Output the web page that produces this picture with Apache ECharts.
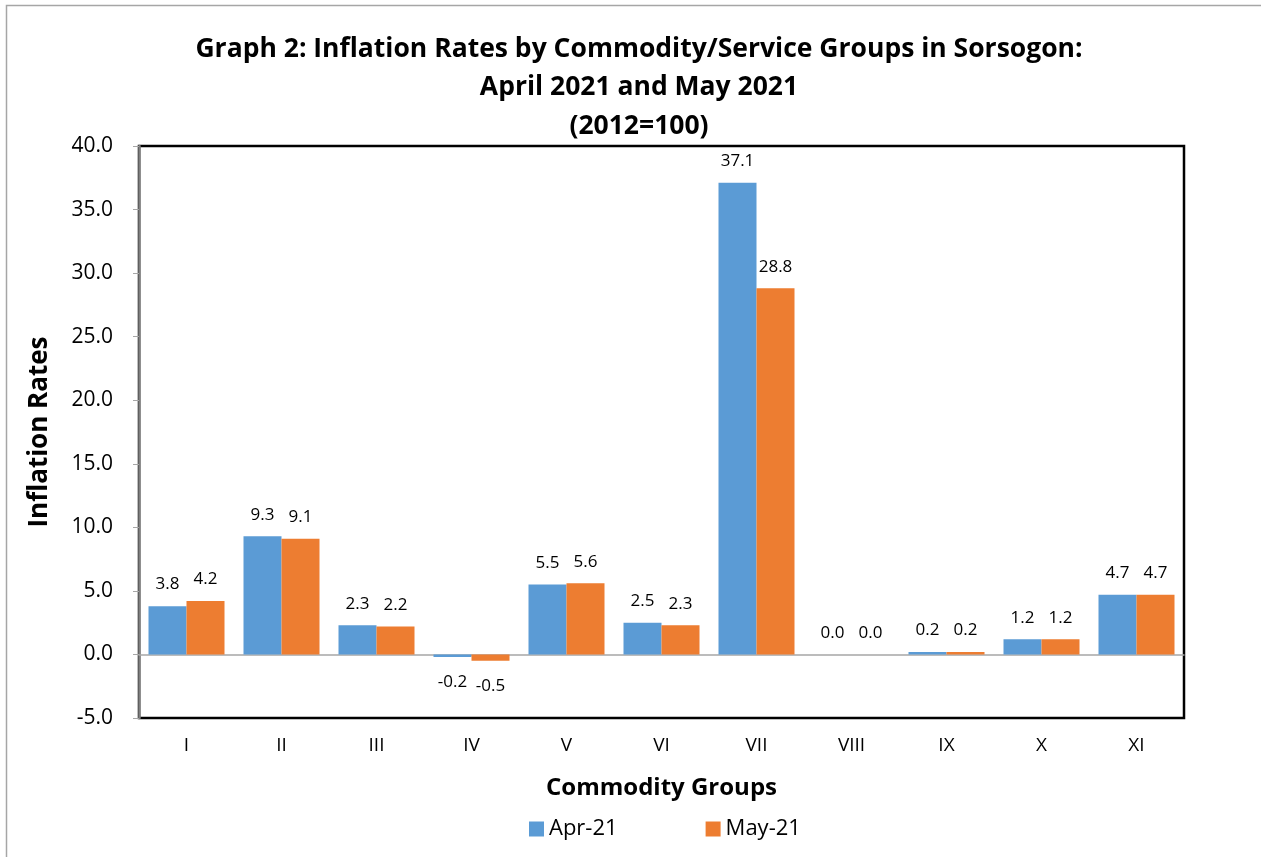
<!doctype html>
<html>
<head>
<meta charset="utf-8">
<script src="https://cdn.jsdelivr.net/npm/echarts@6/dist/echarts.min.js"></script>
<style>
  html, body { margin: 0; padding: 0; background: #fff; }
  #main { width: 1261px; height: 857px; }
</style>
</head>
<body>
<div id="main"></div>
<script>
var groups = ['I', 'II', 'III', 'IV', 'V', 'VI', 'VII', 'VIII', 'IX', 'X', 'XI'];
var apr21 = [3.8, 9.3, 2.3, -0.2, 5.5, 2.5, 37.1, 0.0, 0.2, 1.2, 4.7];
var may21 = [4.2, 9.1, 2.2, -0.5, 5.6, 2.3, 28.8, 0.0, 0.2, 1.2, 4.7];
var seriesNames = ['Apr-21', 'May-21'];

var FONT = '"Open Sans", "Noto Sans", sans-serif';

// negative bars get their label under the bar, like excel's "outside end"
function withLabels(arr) {
  return arr.map(function (v) {
    if (v < 0) return { value: v, label: { position: 'bottom', distance: 17 } };
    return v;
  });
}

var chart = echarts.init(document.getElementById('main'));
chart.setOption({
  animation: false,
  textStyle: { fontFamily: FONT },
  graphic: [{
    type: 'rect',
    shape: { x: 6.5, y: 5.5, width: 1300, height: 900 },
    style: { fill: 'none', stroke: '#a6a6a6', lineWidth: 1.5 },
    silent: true
  }],
  title: {
    text: 'Graph 2: Inflation Rates by Commodity/Service Groups in Sorsogon:\nApril 2021 and May 2021\n(2012=100)',
    left: 634,
    textAlign: 'center',
    top: 25,
    textStyle: { fontFamily: FONT, fontSize: 26.5, fontWeight: 'bold', color: '#000', lineHeight: 38.5 }
  },
  legend: {
    bottom: 12,
    left: 524,
    itemGap: 88,
    itemWidth: 15,
    itemHeight: 15,
    icon: 'rect',
    textStyle: { fontFamily: FONT, fontSize: 22, color: '#000' },
    data: seriesNames
  },
  grid: {
    left: 139, right: 77, top: 146, bottom: 139,
    outerBoundsMode: 'none',
    containLabel: false,
    show: true, borderColor: '#000', borderWidth: 2.5
  },
  xAxis: {
    type: 'category',
    data: groups,
    name: 'Commodity Groups',
    nameLocation: 'middle',
    nameGap: 58,
    nameTextStyle: { fontFamily: FONT, fontSize: 24, fontWeight: 'bold', color: '#000' },
    axisLine: { onZero: true, lineStyle: { color: '#a6a6a6', width: 1.5 } },
    axisTick: { show: false },
    axisLabel: { fontFamily: FONT, fontSize: 19, color: '#000', margin: 18 }
  },
  yAxis: {
    type: 'value',
    min: -5, max: 40, interval: 5,
    name: 'Inflation Rates',
    nameLocation: 'middle',
    nameGap: 86,
    nameRotate: 90,
    nameTextStyle: { fontFamily: FONT, fontSize: 26, fontWeight: 'bold', color: '#000' },
    axisLine: { show: true, lineStyle: { color: '#7f7f7f', width: 2.5 } },
    axisTick: { show: true, length: 6, lineStyle: { color: '#a6a6a6' } },
    splitLine: { show: false },
    axisLabel: {
      fontFamily: FONT, fontSize: 21, color: '#000', margin: 26,
      formatter: function (v) { return v.toFixed(1); }
    }
  },
  series: [
    {
      name: seriesNames[0],
      type: 'bar',
      data: withLabels(apr21),
      barGap: '0%',
      barCategoryGap: '20%',
      itemStyle: { color: '#5b9bd5' },
      label: {
        show: true, position: 'top', distance: 13, color: '#000',
        fontFamily: FONT, fontSize: 17,
        formatter: function (p) { return p.value.toFixed(1); }
      }
    },
    {
      name: seriesNames[1],
      type: 'bar',
      data: withLabels(may21),
      barGap: '0%',
      barCategoryGap: '20%',
      itemStyle: { color: '#ed7d31' },
      label: {
        show: true, position: 'top', distance: 13, color: '#000',
        fontFamily: FONT, fontSize: 17,
        formatter: function (p) { return p.value.toFixed(1); }
      }
    }
  ]
});
</script>
</body>
</html>
